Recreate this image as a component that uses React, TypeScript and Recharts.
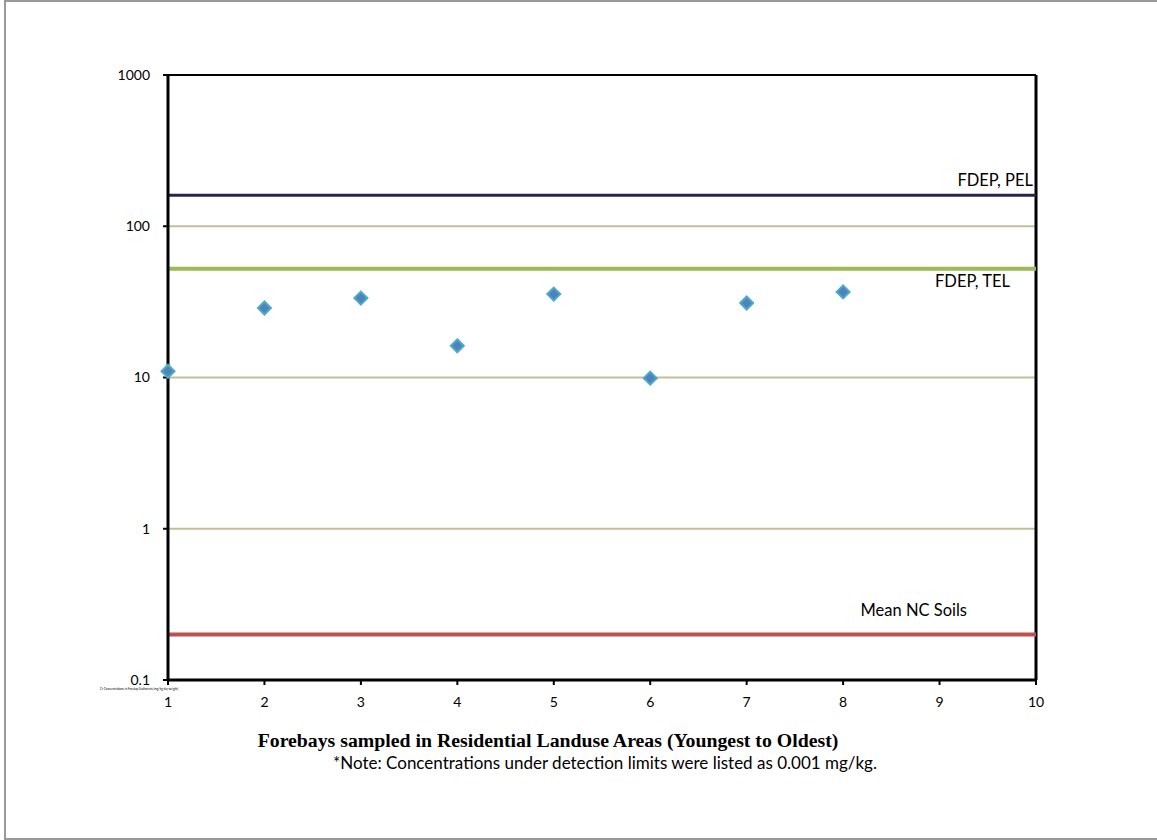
import React from "react";
import {
  ScatterChart,
  Scatter,
  XAxis,
  YAxis,
  CartesianGrid,
  ReferenceLine,
} from "recharts";

// forebay number (youngest to oldest) and measured concentration, mg/kg
const forebays = [1, 2, 3, 4, 5, 6, 7, 8];
const concentrations = [11.0, 28.8, 33.5, 16.2, 35.6, 9.9, 31.1, 36.8];

const xTicks = [1, 2, 3, 4, 5, 6, 7, 8, 9, 10];
const yTicks = [0.1, 1, 10, 100, 1000];

// guideline values
const pelValue = 160.4;
const telValue = 52.3;
const ncSoilsValue = 0.2;

const FONT = "Lato, 'Open Sans', sans-serif";

const points = forebays.map((x, i) => ({ x, y: concentrations[i] }));

const Diamond = (props: any) => {
  const { cx, cy } = props;
  const r = 6.5;
  return (
    <polygon
      points={`${cx},${cy - r} ${cx + r},${cy} ${cx},${cy + r} ${cx - r},${cy}`}
      fill="#4F81BD"
      stroke="#4BACC6"
      strokeWidth={2}
    />
  );
};

// label pinned to the right end of a reference line
const lineLabel = (text: string, dx: number, dy: number) => (props: any) => {
  const vb = props.viewBox;
  return (
    <text
      x={vb.x + vb.width + dx}
      y={vb.y + dy}
      textAnchor="end"
      fontFamily={FONT}
      fontSize={16.5}
      fill="#000"
    >
      {text}
    </text>
  );
};

export default function App() {
  return (
    <div
      style={{
        position: "absolute",
        left: 0,
        top: 0,
        width: 1157,
        height: 840,
        background: "#fff",
        fontFamily: FONT,
      }}
    >
      <div
        style={{
          position: "absolute",
          left: 4,
          top: 0,
          width: 1153,
          height: 836,
          borderLeft: "2px solid #999",
          borderTop: "2px solid #999",
          borderBottom: "2px solid #999",
        }}
      />
      <div style={{ position: "absolute", left: 0, top: 0 }}>
        <ScatterChart
          width={1157}
          height={840}
          margin={{ top: 75, right: 121, bottom: 130, left: 0 }}
        >
          <CartesianGrid
            vertical={false}
            stroke="#C4BD97"
            strokeWidth={2}
          />
          <XAxis
            dataKey="x"
            type="number"
            domain={[1, 10]}
            ticks={xTicks}
            height={30}
            tickSize={5}
            tickMargin={12}
            axisLine={{ stroke: "#000", strokeWidth: 3 }}
            tickLine={{ stroke: "#000", strokeWidth: 2 }}
            tick={{ fill: "#000", fontSize: 14, fontFamily: FONT }}
          />
          <YAxis
            dataKey="y"
            type="number"
            scale="log"
            domain={[0.1, 1000]}
            ticks={yTicks}
            allowDataOverflow
            width={168}
            tickSize={5}
            tickMargin={13}
            axisLine={{ stroke: "#000", strokeWidth: 3 }}
            tickLine={{ stroke: "#000", strokeWidth: 2 }}
            tick={{ fill: "#000", fontSize: 14, fontFamily: FONT }}
            tickFormatter={(v: number) => String(v)}
          />
          <ReferenceLine y={1000} stroke="#000" strokeWidth={2} />
          <ReferenceLine x={10} stroke="#000" strokeWidth={3} />
          <ReferenceLine
            y={pelValue}
            stroke="#2B2250"
            strokeWidth={3}
            label={lineLabel("FDEP, PEL", -3, -9)}
          />
          <ReferenceLine
            y={telValue}
            stroke="#9BBB59"
            strokeWidth={4}
            label={lineLabel("FDEP, TEL", -26, 18)}
          />
          <ReferenceLine
            y={ncSoilsValue}
            stroke="#C0504D"
            strokeWidth={4}
            label={lineLabel("Mean NC Soils", -69, -18)}
          />
          <Scatter
            data={points}
            shape={<Diamond />}
            isAnimationActive={false}
          />
        </ScatterChart>
      </div>
      <div
        style={{
          position: "absolute",
          left: 100,
          top: 687,
          fontSize: 3,
          whiteSpace: "nowrap",
          color: "#000",
        }}
      >
        Cr Concentrations in Forebay Sediments (mg/kg dry weight)
      </div>
      <div
        style={{
          position: "absolute",
          left: 0,
          width: 1096,
          top: 729,
          textAlign: "center",
          fontFamily: "'Liberation Serif', serif",
          fontWeight: "bold",
          fontSize: 19.8,
          color: "#000",
          whiteSpace: "nowrap",
        }}
      >
        Forebays sampled in Residential Landuse Areas (Youngest to Oldest)
      </div>
      <div
        style={{
          position: "absolute",
          left: 333,
          top: 752,
          fontSize: 17,
          color: "#000",
          whiteSpace: "nowrap",
        }}
      >
        *Note: Concentrations under detection limits were listed as 0.001 mg/kg.
      </div>
    </div>
  );
}
